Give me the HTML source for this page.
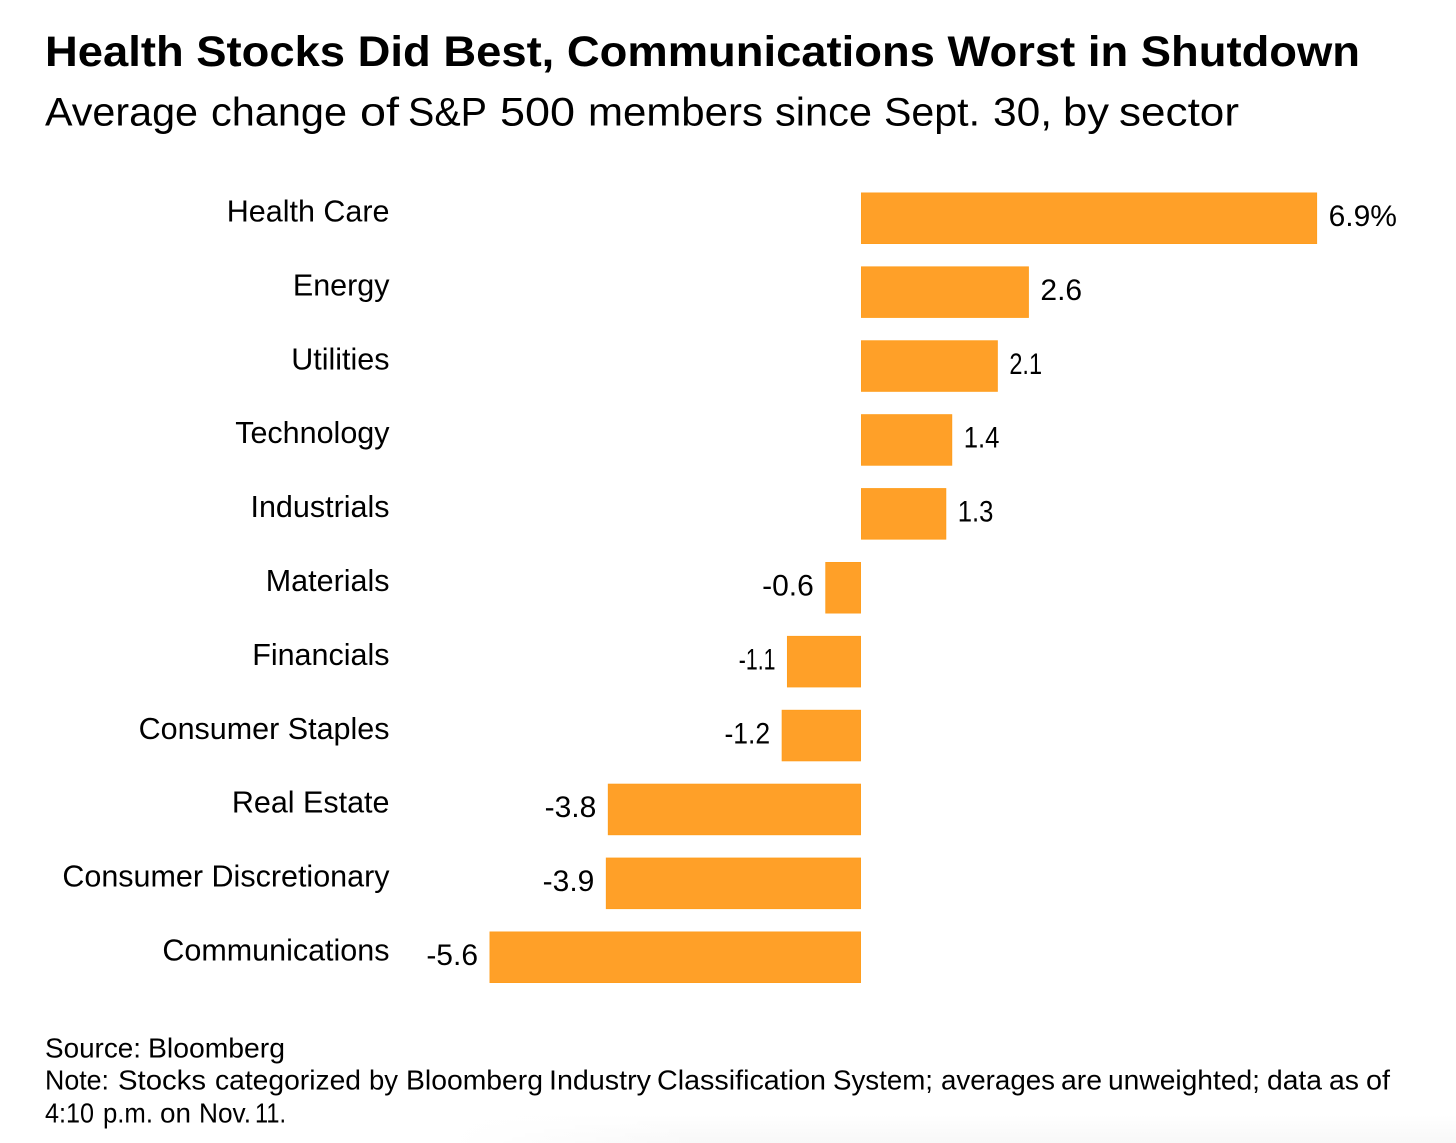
<!DOCTYPE html>
<html lang="en">
<head>
<meta charset="utf-8">
<title>Health Stocks Did Best, Communications Worst in Shutdown</title>
<style>
html,body{margin:0;padding:0;background:#fff;}
body{width:1456px;height:1143px;overflow:hidden;position:relative;font-family:"Liberation Sans",sans-serif;color:#000;}
svg{position:absolute;left:0;top:0;}
text{font-family:"Liberation Sans",sans-serif;fill:#000;}
</style>
</head>
<body>
<svg id="chart" width="1456" height="1143" viewBox="0 0 1456 1143" xmlns="http://www.w3.org/2000/svg">
  <defs>
    <linearGradient id="bottom-fade" x1="0" y1="0" x2="0" y2="1">
      <stop offset="0" stop-color="#ffffff"/>
      <stop offset="1" stop-color="#f8f8f8"/>
    </linearGradient>
    <linearGradient id="left-fade" x1="0" y1="0" x2="1" y2="0">
      <stop offset="0" stop-color="#ffffff" stop-opacity="1"/>
      <stop offset="1" stop-color="#ffffff" stop-opacity="0"/>
    </linearGradient>
  </defs>
  <rect x="450" y="1115" width="1006" height="28" fill="url(#bottom-fade)"/>
  <rect x="450" y="1115" width="250" height="28" fill="url(#left-fade)"/>
  <text x="45" y="66" font-size="43" font-weight="700" textLength="1315" lengthAdjust="spacingAndGlyphs">Health Stocks Did Best, Communications Worst in Shutdown</text>
  <g font-size="40">
    <text y="125.5" x="45" textLength="153" lengthAdjust="spacingAndGlyphs">Average</text>
    <text y="125.5" x="211" textLength="136" lengthAdjust="spacingAndGlyphs">change</text>
    <text y="125.5" x="360" textLength="39" lengthAdjust="spacingAndGlyphs">of</text>
    <text y="125.5" x="408" textLength="79" lengthAdjust="spacingAndGlyphs">S&amp;P</text>
    <text y="125.5" x="500" textLength="75" lengthAdjust="spacingAndGlyphs">500</text>
    <text y="125.5" x="588" textLength="175" lengthAdjust="spacingAndGlyphs">members</text>
    <text y="125.5" x="775" textLength="97" lengthAdjust="spacingAndGlyphs">since</text>
    <text y="125.5" x="884" textLength="96" lengthAdjust="spacingAndGlyphs">Sept.</text>
    <text y="125.5" x="993" textLength="59" lengthAdjust="spacingAndGlyphs">30,</text>
    <text y="125.5" x="1063" textLength="46" lengthAdjust="spacingAndGlyphs">by</text>
    <text y="125.5" x="1119" textLength="120" lengthAdjust="spacingAndGlyphs">sector</text>
  </g>
  <g id="bars"></g>
  <g font-size="28">
    <text y="1057.5" x="45" textLength="96" lengthAdjust="spacingAndGlyphs">Source:</text>
    <text y="1057.5" x="148" textLength="137" lengthAdjust="spacingAndGlyphs">Bloomberg</text>
  </g>
  <g font-size="28">
    <text y="1089.5" x="45" textLength="64" lengthAdjust="spacingAndGlyphs">Note:</text>
    <text y="1089.5" x="118" textLength="88" lengthAdjust="spacingAndGlyphs">Stocks</text>
    <text y="1089.5" x="215" textLength="146" lengthAdjust="spacingAndGlyphs">categorized</text>
    <text y="1089.5" x="369" textLength="29" lengthAdjust="spacingAndGlyphs">by</text>
    <text y="1089.5" x="406" textLength="137" lengthAdjust="spacingAndGlyphs">Bloomberg</text>
    <text y="1089.5" x="549" textLength="102" lengthAdjust="spacingAndGlyphs">Industry</text>
    <text y="1089.5" x="657" textLength="169" lengthAdjust="spacingAndGlyphs">Classification</text>
    <text y="1089.5" x="833" textLength="100" lengthAdjust="spacingAndGlyphs">System;</text>
    <text y="1089.5" x="941" textLength="114" lengthAdjust="spacingAndGlyphs">averages</text>
    <text y="1089.5" x="1061" textLength="41" lengthAdjust="spacingAndGlyphs">are</text>
    <text y="1089.5" x="1108" textLength="152" lengthAdjust="spacingAndGlyphs">unweighted;</text>
    <text y="1089.5" x="1267" textLength="55" lengthAdjust="spacingAndGlyphs">data</text>
    <text y="1089.5" x="1329" textLength="30" lengthAdjust="spacingAndGlyphs">as</text>
    <text y="1089.5" x="1366" textLength="24" lengthAdjust="spacingAndGlyphs">of</text>
  </g>
  <g font-size="28">
    <text y="1122.5" x="45" textLength="49" lengthAdjust="spacingAndGlyphs">4:10</text>
    <text y="1122.5" x="103" textLength="50" lengthAdjust="spacingAndGlyphs">p.m.</text>
    <text y="1122.5" x="160" textLength="31" lengthAdjust="spacingAndGlyphs">on</text>
    <text y="1122.5" x="199" textLength="52" lengthAdjust="spacingAndGlyphs">Nov.</text>
    <text y="1122.5" x="255" textLength="31" lengthAdjust="spacingAndGlyphs">11.</text>
  </g>
</svg>
<script>
const categories = ["Health Care","Energy","Utilities","Technology","Industrials","Materials","Financials","Consumer Staples","Real Estate","Consumer Discretionary","Communications"];
const values = [6.9,2.54,2.07,1.38,1.29,-0.54,-1.12,-1.2,-3.83,-3.86,-5.62];
const valueLabels = ["6.9%","2.6","2.1","1.4","1.3","-0.6","-1.1","-1.2","-3.8","-3.9","-5.6"];

const NS = "http://www.w3.org/2000/svg";
const group = document.getElementById("bars");
const zeroX = 861, pxPerUnit = 66.1;
const firstTop = 192.5, rowStep = 73.9, barH = 51.5;
function xScale(v){ return zeroX + v * pxPerUnit; }
function rowTop(i){ return firstTop + i * rowStep; }
function digitOneTightening(label){
  let cut = 0;
  if (/^-?1\./.test(label)) cut += 6;
  if (/\.1$/.test(label)) cut += 9;
  return cut;
}

categories.forEach(function(cat, i){
  const v = values[i];
  const x0 = xScale(0), x1 = xScale(v);
  const left = Math.min(x0, x1), width = Math.abs(x1 - x0);
  const top = rowTop(i);

  const rect = document.createElementNS(NS, "rect");
  rect.setAttribute("x", left + 0.5);
  rect.setAttribute("y", top + 0.5);
  rect.setAttribute("width", Math.max(width - 1, 0));
  rect.setAttribute("height", barH - 1);
  rect.setAttribute("fill", "#ffa028");
  rect.setAttribute("stroke", "#ff9e1f");
  rect.setAttribute("stroke-width", "1");
  
  
  group.appendChild(rect);

  const label = document.createElementNS(NS, "text");
  label.setAttribute("x", 389.5);
  label.setAttribute("y", top + 29);
  label.setAttribute("text-anchor", "end");
  label.setAttribute("font-size", "30.5");
  label.textContent = cat;
  
  
  group.appendChild(label);

  const val = document.createElementNS(NS, "text");
  val.setAttribute("x", v >= 0 ? x1 + 11.5 : x1 - 11.5);
  val.setAttribute("y", top + 33.5);
  val.setAttribute("text-anchor", v >= 0 ? "start" : "end");
  val.setAttribute("font-size", "30");
  val.textContent = valueLabels[i];
  
  
  group.appendChild(val);

  const cut = digitOneTightening(valueLabels[i]);
  if (cut > 0) {
    val.setAttribute("textLength", val.getComputedTextLength() - cut);
    val.setAttribute("lengthAdjust", "spacingAndGlyphs");
  }
});
</script>
</body>
</html>
